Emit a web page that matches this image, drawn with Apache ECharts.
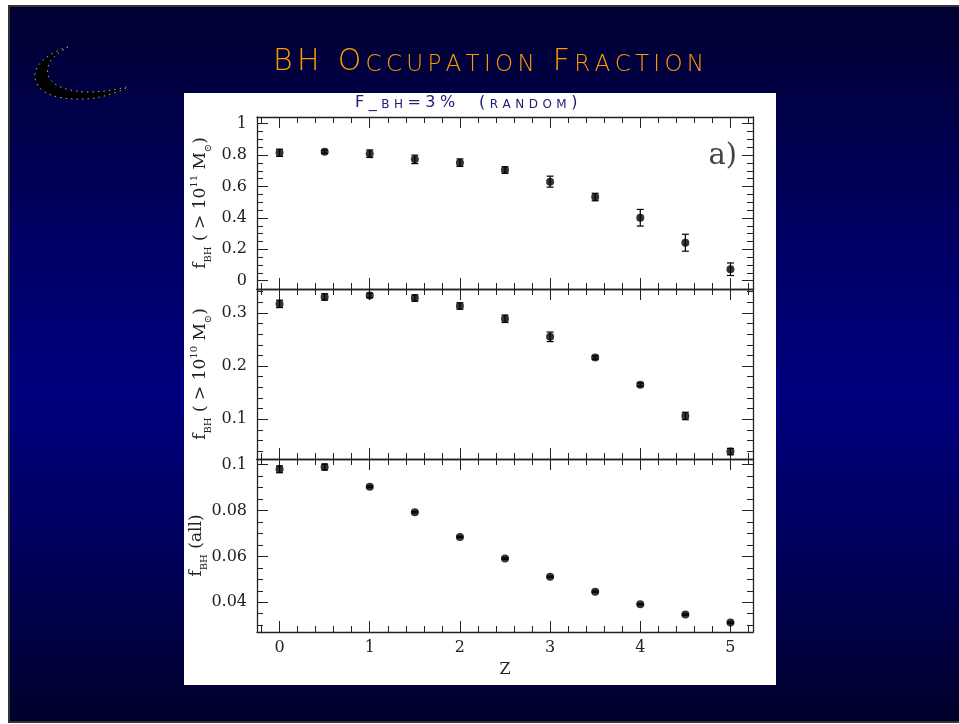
<!DOCTYPE html>
<html>
<head>
<meta charset="utf-8">
<title>BH Occupation Fraction</title>
<script src="https://cdn.jsdelivr.net/npm/echarts@6/dist/echarts.min.js"></script>
<style>
  html, body { margin: 0; padding: 0; background: #fff; }
  #chart { width: 959px; height: 724px; }
</style>
</head>
<body>
<div id="chart"></div>
<script>
// redshift bins (shared by all three panels)
const zValues = [0, 0.5, 1, 1.5, 2, 2.5, 3, 3.5, 4, 4.5, 5];

// panel a: hosts above 1e11 Msun
const fMassive   = [0.815, 0.822, 0.809, 0.773, 0.752, 0.705, 0.631, 0.533, 0.401, 0.242, 0.073];
const errMassive = [0.023, 0.010, 0.024, 0.027, 0.024, 0.021, 0.035, 0.024, 0.053, 0.054, 0.040];

// middle: hosts above 1e10 Msun
const fMid   = [0.317, 0.330, 0.333, 0.328, 0.313, 0.289, 0.255, 0.216, 0.165, 0.106, 0.039];
const errMid = [0.007, 0.006, 0.004, 0.006, 0.006, 0.007, 0.009, 0.003, 0.003, 0.007, 0.006];

// bottom: all galaxies
const fAll   = [0.0980, 0.0990, 0.0904, 0.0793, 0.0685, 0.0591, 0.0511, 0.0446, 0.0391, 0.0346, 0.0311];
const errAll = [0.0015, 0.0013, 0.0004, 0.0003, 0.0003, 0.0003, 0.0003, 0.0003, 0.0003, 0.0003, 0.0003];

// tick labels
const xTickLabels = [0, 1, 2, 3, 4, 5];
const yTicksMassive = [0, 0.2, 0.4, 0.6, 0.8, 1];
const yTicksMid = [0.1, 0.2, 0.3];
const yTicksAll = [0.04, 0.06, 0.08, 0.1];

const titleText = 'BH Occupation Fraction';
const subtitleText = 'F_bh=3%  (random)';

// evenly spaced minor tick positions
function steps(a, b, d) {
  const out = [];
  for (let v = a; v <= b + d / 2; v += d) out.push(Math.round(v * 10000) / 10000);
  return out;
}
const xMinorTicks = steps(-0.2, 5.2, 0.2);

const serif = 'DejaVu Serif';
const ink = '#222';

const panels = [
  { top: 117, height: 172, min: -0.053, max: 1.043, major: yTicksMassive, minor: steps(0, 1, 0.05),
    f: fMassive, err: errMassive, gap: 44,
    name: '{n|f}{sub|BH}{n| ( > 10}{sup|11}{n| M}{sub|⊙}{n|)}' },
  { top: 289, height: 170, min: 0.025, max: 0.345, major: yTicksMid, minor: steps(0.04, 0.34, 0.02),
    f: fMid, err: errMid, gap: 44,
    name: '{n|f}{sub|BH}{n| ( > 10}{sup|10}{n| M}{sub|⊙}{n|)}' },
  { top: 459, height: 173, min: 0.027, max: 0.1025, major: yTicksAll, minor: steps(0.03, 0.1, 0.005),
    f: fAll, err: errAll, gap: 48,
    name: '{n|f}{sub|BH}{n| (all)}' }
];

const nameRich = {
  n:   { fontFamily: serif, fontSize: 17, lineHeight: 24, verticalAlign: 'middle', color: ink },
  sub: { fontFamily: serif, fontSize: 10, lineHeight: 10, verticalAlign: 'bottom', color: ink },
  sup: { fontFamily: serif, fontSize: 10, lineHeight: 10, verticalAlign: 'top', color: ink }
};

// small caps: lower case letters become smaller capitals
function smallCaps(str) {
  return str.split('').map(c => /[a-z]/.test(c) ? '{s|' + c.toUpperCase() + '}' : '{b|' + c + '}').join('');
}

const grids = [], xAxes = [], yAxes = [], series = [];

panels.forEach((p, g) => {
  grids.push({ left: 257, top: p.top, width: 496, height: p.height });
  const last = g === panels.length - 1;

  ['bottom', 'top'].forEach(pos => {
    [true, false].forEach(major => {
      xAxes.push({
        type: 'value', gridIndex: g, position: pos, min: -0.25, max: 5.25,
        axisLine: { show: major, onZero: false, lineStyle: { color: ink, width: 1.3 } },
        axisTick: { show: true, inside: true, length: major ? 11 : 6,
          customValues: major ? xTickLabels : xMinorTicks, lineStyle: { color: ink, width: 1 } },
        axisLabel: { show: last && major && pos === 'bottom', customValues: xTickLabels, margin: 8,
          fontFamily: serif, fontSize: 16, color: ink },
        splitLine: { show: false },
        name: last && major && pos === 'bottom' ? 'Z' : '',
        nameLocation: 'middle', nameGap: 30,
        nameTextStyle: { fontFamily: serif, fontSize: 16, color: ink }
      });
    });
  });

  ['left', 'right'].forEach(pos => {
    [true, false].forEach(major => {
      const main = major && pos === 'left';
      yAxes.push({
        type: 'value', gridIndex: g, position: pos, min: p.min, max: p.max,
        axisLine: { show: major, onZero: false, lineStyle: { color: ink, width: 1.3 } },
        axisTick: { show: true, inside: true, length: major ? 11 : 6,
          customValues: major ? p.major : p.minor, lineStyle: { color: ink, width: 1 } },
        axisLabel: { show: main, customValues: p.major, margin: 10,
          fontFamily: serif, fontSize: 16, color: ink, formatter: v => String(v) },
        splitLine: { show: false },
        name: main ? p.name : '',
        nameLocation: 'middle', nameRotate: 90, nameGap: p.gap, nameMoveOverlap: false,
        nameTextStyle: { rich: nameRich }
      });
    });
  });

  const ax = g * 4;
  series.push({
    type: 'custom', xAxisIndex: ax, yAxisIndex: ax, silent: true,
    data: zValues.map((z, i) => [z, p.f[i], p.err[i]]),
    renderItem: (params, api) => {
      const x = api.value(0), y = api.value(1), e = api.value(2);
      const lo = api.coord([x, y - e]);
      const hi = api.coord([x, y + e]);
      const w = 3.5;
      const st = { stroke: '#000', lineWidth: 1.2 };
      return {
        type: 'group',
        children: [
          { type: 'line', shape: { x1: lo[0], y1: lo[1], x2: hi[0], y2: hi[1] }, style: st },
          { type: 'line', shape: { x1: lo[0] - w, y1: lo[1], x2: lo[0] + w, y2: lo[1] }, style: st },
          { type: 'line', shape: { x1: hi[0] - w, y1: hi[1], x2: hi[0] + w, y2: hi[1] }, style: st }
        ]
      };
    }
  });
  series.push({
    type: 'scatter', xAxisIndex: ax, yAxisIndex: ax, silent: true,
    symbol: 'circle', symbolSize: 8, itemStyle: { color: '#000' },
    data: zValues.map((z, i) => [z, p.f[i]])
  });
});

const chart = echarts.init(document.getElementById('chart'));
chart.setOption({
  animation: false,
  backgroundColor: '#fff',
  title: [
    {
      left: 273, top: 47, padding: 0,
      text: smallCaps(titleText),
      textStyle: {
        rich: {
          b: { fontFamily: 'DejaVu Sans', fontWeight: 200, fontSize: 30, lineHeight: 30, verticalAlign: 'bottom', color: '#ff9900', padding: [0, 4.3, 0, 0] },
          s: { fontFamily: 'DejaVu Sans', fontWeight: 200, fontSize: 23, lineHeight: 23, verticalAlign: 'bottom', color: '#ff9900', padding: [0, 4.3, 0, 0] }
        }
      }
    },
    {
      left: 355, top: 95, padding: 0,
      text: smallCaps(subtitleText),
      textStyle: {
        rich: {
          b: { fontFamily: 'DejaVu Sans', fontWeight: 'normal', fontSize: 16, lineHeight: 16, verticalAlign: 'bottom', color: '#20207a', padding: [0, 4.5, 0, 0] },
          s: { fontFamily: 'DejaVu Sans', fontWeight: 'normal', fontSize: 12, lineHeight: 12, verticalAlign: 'bottom', color: '#20207a', padding: [0, 4.5, 0, 0] }
        }
      }
    }
  ],
  graphic: [
    {
      type: 'rect', z: -10, silent: true,
      shape: { x: 9, y: 6, width: 952, height: 716 },
      style: {
        fill: { type: 'linear', x: 0, y: 0, x2: 0, y2: 1, colorStops: [
          { offset: 0, color: '#000030' },
          { offset: 0.35, color: '#000068' },
          { offset: 0.55, color: '#00007e' },
          { offset: 0.78, color: '#000058' },
          { offset: 1, color: '#00002a' }
        ] },
        stroke: '#333', lineWidth: 2
      }
    },
    {
      type: 'rect', z: -9, silent: true,
      shape: { x: 184, y: 93, width: 592, height: 592 },
      style: { fill: '#fff' }
    },
    {
      // crescent logo
      type: 'polygon', z: 5, silent: true,
      shape: {
        smooth: 0.35,
        points: [[68, 47], [50, 55], [38, 66], [35, 78], [42, 90], [58, 97], [85, 99], [108, 95], [128, 87],
                 [112, 90], [90, 92], [70, 90], [55, 84], [48, 75], [49, 64], [56, 55]]
      },
      style: { fill: '#000', stroke: '#a8a8a8', lineWidth: 1, lineDash: [1.5, 4] }
    },
    {
      type: 'text', z: 5, silent: true, x: 737, y: 156,
      style: { text: 'a)', fontFamily: serif, fontSize: 29, fill: '#444', align: 'right', verticalAlign: 'middle' }
    }
  ],
  grid: grids,
  xAxis: xAxes,
  yAxis: yAxes,
  series: series
});
</script>
</body>
</html>
